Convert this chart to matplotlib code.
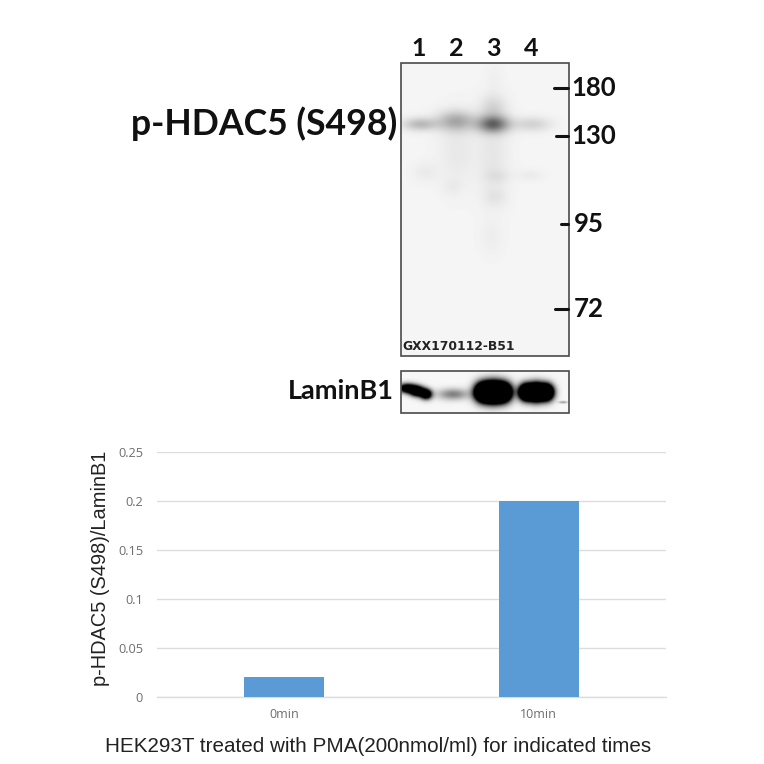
import numpy as np
import matplotlib
matplotlib.use('Agg')
import matplotlib.pyplot as plt

# Densitometry bar chart
categories = ['0min', '10min']
ratios     = [0.02, 0.2]
yticks     = [0, 0.05, 0.1, 0.15, 0.2, 0.25]
ytick_text = ['0', '0.05', '0.1', '0.15', '0.2', '0.25']

# Blot annotations
lanes      = ['1', '2', '3', '4']
lane_x     = [419, 456, 493, 531]
mw_labels  = ['180', '130', '95', '72']
mw_y       = [88, 136, 224, 309]
mw_text_x  = [571, 571, 574, 574]
mw_tick_x0 = [554, 556, 561, 555]

# Main blot bands: centre x, centre y, sigma x, sigma y, darkness
blot_bands = [
    (420, 124, 12, 4.5, 0.24), (456, 121, 13, 7.0, 0.30), (493, 124, 11, 6.0, 0.55),
    (493, 108, 9, 9.0, 0.12), (532, 124, 13, 5.0, 0.14), (457, 150, 13, 25, 0.05),
    (493, 155, 11, 32, 0.06), (497, 176, 9, 5.0, 0.05), (495, 197, 8, 7.0, 0.05),
    (425, 172, 9, 7.0, 0.04), (530, 175, 9, 4.0, 0.04), (452, 187, 7, 6.0, 0.03),
    (491, 238, 8, 12, 0.03), (494, 78, 6, 10, 0.02),
]
# Loading control bands
load_bands = [
    (407, 388, 6, 3.2, 1.6), (417, 391, 5, 3.5, 1.8), (426, 394, 4, 3.5, 1.6),
    (453, 394, 11, 4.0, 0.48), (483, 392, 6, 6.5, 3.0), (493, 392, 6, 7.0, 3.0),
    (503, 392, 6, 6.5, 3.0), (526, 392, 5, 5.5, 3.0), (536, 392, 5, 6.0, 3.0),
    (546, 392, 5, 5.5, 3.0), (563, 402, 3, 0.8, 0.4),
]


def render(bands, x0, x1, y0, y1, base):
    xx, yy = np.meshgrid(np.arange(x0, x1, 0.5), np.arange(y0, y1, 0.5))
    dark = np.zeros_like(xx)
    for cx, cy, sx, sy, amp in bands:
        dark += amp * np.exp(-((xx - cx) / sx) ** 2 / 2 - ((yy - cy) / sy) ** 2 / 2)
    return np.clip(base * (1 - np.clip(dark, 0, 1)), 0, 1)


fig = plt.figure(figsize=(7.64, 7.64), dpi=100, facecolor='white')

# Overlay in pixel coordinates for the blot panels
ov = fig.add_axes([0, 0, 1, 1])
ov.axis('off')

ov.imshow(render(blot_bands, 401, 569, 63, 356, 0.96), cmap='gray', vmin=0, vmax=1,
          extent=(401, 569, 356, 63), aspect='auto', interpolation='bilinear')
ov.imshow(render(load_bands, 401, 569, 371, 413, 0.97), cmap='gray', vmin=0, vmax=1,
          extent=(401, 569, 413, 371), aspect='auto', interpolation='bilinear')
ov.set_xlim(0, 764)
ov.set_ylim(764, 0)

for (top, bottom) in [(63, 356), (371, 413)]:
    ov.add_patch(plt.Rectangle((401, top), 168, bottom - top, fill=False,
                               ec='#4a4a4a', lw=1.2))

bold = {'family': 'Lato', 'weight': 'bold', 'color': '#111111'}
for name, x in zip(lanes, lane_x):
    ov.text(x, 48, name, ha='center', va='center', fontsize=18, **bold)
for name, x, y, x0 in zip(mw_labels, mw_text_x, mw_y, mw_tick_x0):
    ov.text(x, y, name, ha='left', va='center', fontsize=18.5, **bold)
    ov.plot([x0, 568], [y, y], color='#111111', lw=2.2, solid_capstyle='round')

ov.text(397, 124, 'p-HDAC5 (S498)', ha='right', va='center', fontsize=25.7, **bold)
ov.text(394, 391, 'LaminB1', ha='right', va='center', fontsize=19.5, **bold)
ov.text(402, 347, 'GXX170112-B51', ha='left', va='center', fontsize=8.8,
        family='DejaVu Sans', weight='bold', color='#222222')

# Bar chart
ax = fig.add_axes([157 / 764, 1 - 697 / 764, 509 / 764, 245 / 764])
ax.patch.set_alpha(0)
x = np.arange(len(categories))
ax.bar(x, ratios, width=0.315, color='#5b9bd5', zorder=3)
ax.set_xlim(-0.5, 1.5)
ax.set_ylim(0, 0.25)
ax.set_xticks(x)
ax.set_xticklabels(categories, fontsize=9, family='Open Sans', color='#6e6e6e')
ax.set_yticks(yticks)
ax.set_yticklabels(ytick_text, fontsize=9.2, family='Open Sans', color='#6e6e6e')
ax.tick_params(length=0)
ax.tick_params(axis='x', pad=8)
ax.tick_params(axis='y', pad=10)
ax.grid(axis='y', color='#dddddd', lw=1, zorder=0)
ax.set_axisbelow(True)
for side in ['top', 'right', 'left', 'bottom']:
    ax.spines[side].set_visible(False)
ax.axhline(0, color='#dddddd', lw=1, zorder=1, clip_on=False)

ov.text(101, 568, 'p-HDAC5 (S498)/LaminB1', rotation=90, ha='center', va='center',
        fontsize=14.4, family='Liberation Sans', color='#222222')
ov.text(378, 747, 'HEK293T treated with PMA(200nmol/ml) for indicated times', ha='center',
        va='center', fontsize=14.9, family='Liberation Sans', color='#222222')

fig.savefig('out.png', dpi=100)
